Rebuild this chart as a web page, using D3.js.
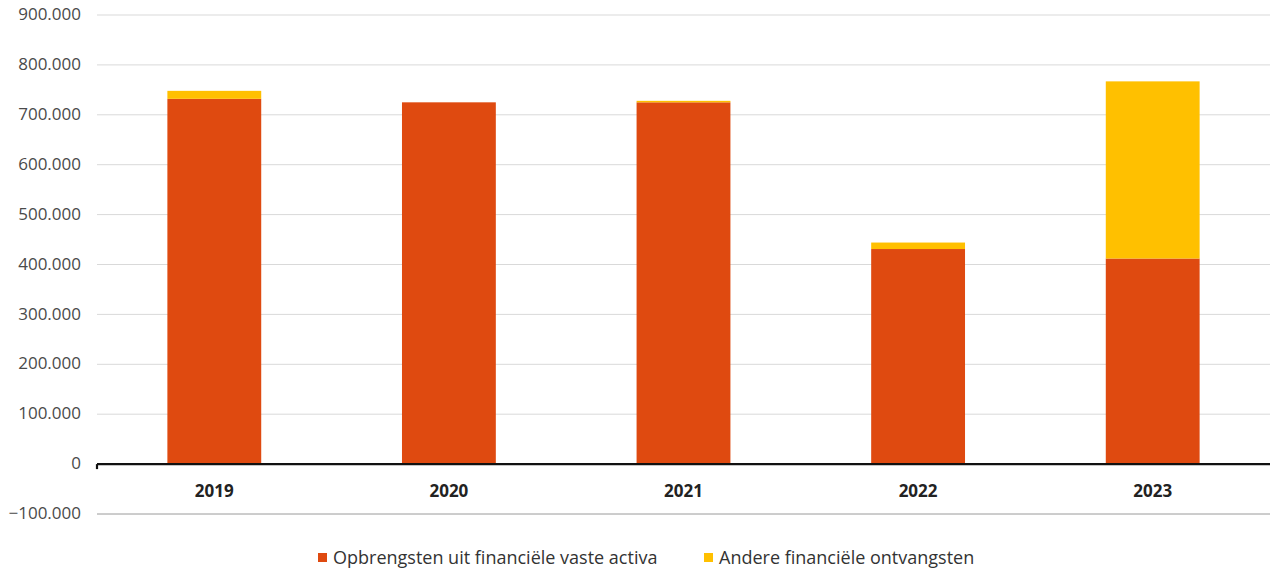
<!DOCTYPE html>
<html><head><meta charset="utf-8">
<script src="https://cdn.jsdelivr.net/npm/d3@7"></script>
<style>body{margin:0;background:#fff;font-family:"Open Sans",Lato,sans-serif;}</style>
</head><body><svg id="c" width="1272" height="573"></svg>
<script>
const categories = ["2019","2020","2021","2022","2023"];
const opbrengsten = [732000, 725000, 725000, 431000, 412000];
const andere = [16000, 0, 3000, 13000, 355000];
const seriesNames = ["Opbrengsten uit financiële vaste activa","Andere financiële ontvangsten"];
const colors = ["#DF4A10","#FFC000"];
const yTicks = [-100000,0,100000,200000,300000,400000,500000,600000,700000,800000,900000];

const svg = d3.select("#c");
const L=97, R=1270, T=15, B=514;
const y = d3.scaleLinear().domain([-100000,900000]).range([B,T]);
const x = d3.scaleBand().domain(categories).range([L,R]).paddingInner(0.6).paddingOuter(0.3);
const fmt = v => v===0 ? "0" : d3.format(",")(v).replace(/,/g,".");

// grid
svg.append("g").selectAll("line").data(yTicks.filter(d=>d!==0)).join("line")
  .attr("x1",L).attr("x2",R).attr("y1",d=>y(d)).attr("y2",d=>y(d))
  .attr("stroke",d=>d===-100000?"#9a9a9a":"#d9d9d9").attr("stroke-width",1);

// y labels
svg.append("g").selectAll("text").data(yTicks).join("text")
  .attr("x",81).attr("y",d=>y(d)).attr("dy","0.3em").attr("text-anchor","end")
  .attr("font-size",17).attr("fill","#4a4a4a").text(fmt);

// stacked bars
const data = categories.map((c,i)=>({cat:c, a:opbrengsten[i], b:andere[i]}));
const stack = d3.stack().keys(["a","b"])(data);
svg.append("g").selectAll("g").data(stack).join("g").attr("fill",(d,i)=>colors[i])
  .selectAll("rect").data(d=>d).join("rect")
  .attr("x",d=>x(d.data.cat)).attr("width",x.bandwidth())
  .attr("y",d=>y(d[1])).attr("height",d=>y(d[0])-y(d[1]));

// zero axis
svg.append("line").attr("x1",L).attr("x2",R).attr("y1",y(0)).attr("y2",y(0))
  .attr("stroke","#111").attr("stroke-width",2.2);
svg.append("line").attr("x1",L).attr("x2",L).attr("y1",y(0)).attr("y2",y(0)+5)
  .attr("stroke","#111").attr("stroke-width",2.2);

// category labels
svg.append("g").selectAll("text").data(categories).join("text")
  .attr("x",d=>x(d)+x.bandwidth()/2).attr("y",497).attr("text-anchor","middle")
  .attr("font-size",17).attr("font-weight","bold").attr("fill","#222").text(d=>d);

// legend
const leg = [{x:318, tx:333},{x:704, tx:719}];
leg.forEach((p,i)=>{
  svg.append("rect").attr("x",p.x).attr("y",553).attr("width",9).attr("height",9).attr("fill",colors[i]);
  svg.append("text").attr("x",p.tx).attr("y",564).attr("font-size",18).attr("fill","#333").text(seriesNames[i]);
});
</script></body></html>
